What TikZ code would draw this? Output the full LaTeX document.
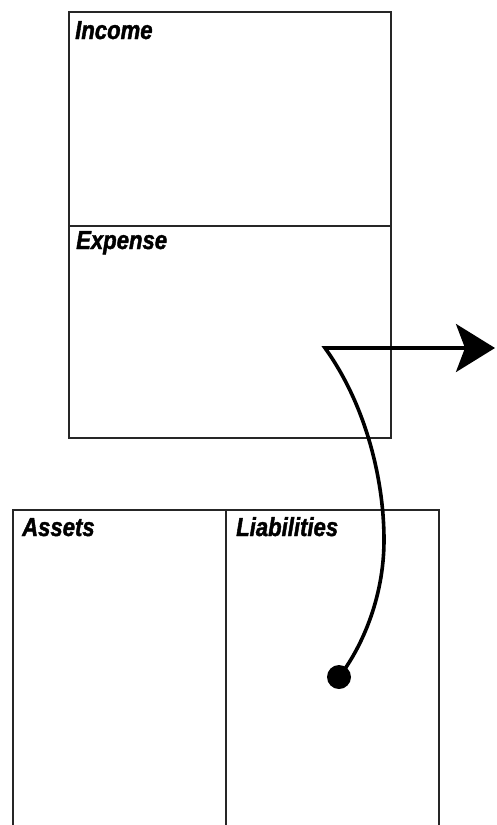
\documentclass[tikz,border=0pt]{standalone}
\usepackage{fontspec}
\newfontfamily\labfont[FakeStretch=0.85,FakeBold=1.6]{Liberation Sans}
\usetikzlibrary{arrows.meta}
\begin{document}
\begin{tikzpicture}[x=1pt,y=-1pt,
  box/.style={draw=black!85, line width=2.2pt, rectangle, inner sep=0pt, outer sep=0pt, anchor=north west},
  lab/.style={anchor=base west, inner sep=0pt, font=\labfont\bfseries\itshape\fontsize{26}{26}\selectfont},
  flow/.style={line width=3.6pt, black, line join=miter, miter limit=20},
  dotnode/.style={circle, fill=black, minimum size=24pt, inner sep=0pt}]
\useasboundingbox (0,0) rectangle (496,825);
\clip (0,0) rectangle (496,825);
% top boxes
\node[box, minimum width=322pt, minimum height=214pt] (income) at (69,12) {};
\node[box, minimum width=322pt, minimum height=212pt] (expense) at (69,226) {};
% bottom boxes
\node[box, minimum width=213pt, minimum height=340pt] (assets) at (13,510) {};
\node[box, minimum width=213pt, minimum height=340pt] (liabilities) at (226,510) {};
% labels
\node[lab] (incomelab) at (75,39) {Income};
\node[lab] (expenselab) at (76,249) {Expense};
\node[lab] (assetslab) at (22,536) {Assets};
\node[lab] (liablab) at (236,536) {Liabilities};
% flow
\node[dotnode] (dot) at (339,677) {};
\coordinate (turn) at (325,348);
\coordinate (out) at (495,348);
\draw[flow, -{Stealth[length=39pt, width=48pt, inset=9pt]}]
  (dot.center) .. controls (360,650) and (384,600) .. (384,540)
  .. controls (384,480) and (366,405) .. (turn) -- (out);
\end{tikzpicture}
\end{document}
